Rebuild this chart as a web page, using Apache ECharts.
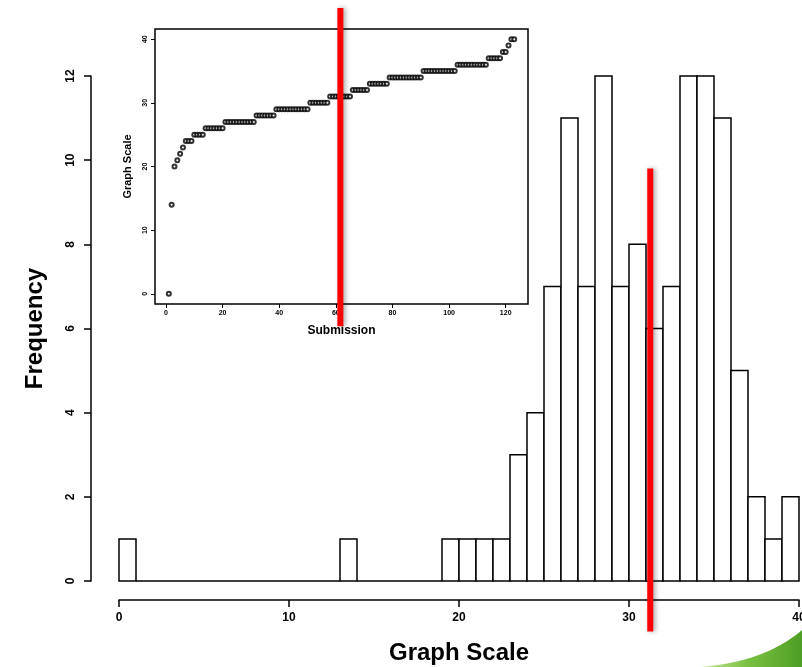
<!DOCTYPE html>
<html>
<head>
<meta charset="utf-8">
<script src="https://cdn.jsdelivr.net/npm/echarts@6/dist/echarts.min.js"></script>
<style>
  html, body { margin: 0; padding: 0; background: #fff; }
  #chart { width: 802px; height: 667px; }
</style>
</head>
<body>
<div id="chart"></div>
<script>
// Histogram of graph-scale scores: one bin per unit, bin k covers [k, k+1]
const binCounts = [
  1, 0, 0, 0, 0, 0, 0, 0, 0, 0,
  0, 0, 0, 1, 0, 0, 0, 0, 0, 1,
  1, 1, 1, 3, 4, 7, 11, 7, 12, 7,
  8, 6, 7, 12, 12, 11, 5, 2, 1, 2
];
const binStart = 0;
const binWidth = 1;

// Scores of every submission, in sorted order (inset plot)
const sortedScores = [
  0,
  14,
  20, 21, 22, 23,
  24, 24, 24,
  25, 25, 25, 25,
  26, 26, 26, 26, 26, 26, 26,
  27, 27, 27, 27, 27, 27, 27, 27, 27, 27, 27,
  28, 28, 28, 28, 28, 28, 28,
  29, 29, 29, 29, 29, 29, 29, 29, 29, 29, 29, 29,
  30, 30, 30, 30, 30, 30, 30,
  31, 31, 31, 31, 31, 31, 31, 31,
  32, 32, 32, 32, 32, 32,
  33, 33, 33, 33, 33, 33, 33,
  34, 34, 34, 34, 34, 34, 34, 34, 34, 34, 34, 34,
  35, 35, 35, 35, 35, 35, 35, 35, 35, 35, 35, 35,
  36, 36, 36, 36, 36, 36, 36, 36, 36, 36, 36,
  37, 37, 37, 37, 37,
  38, 38,
  39,
  40, 40
];

// Tick labels
const mainXTicks = [0, 10, 20, 30, 40];
const mainYTicks = [0, 2, 4, 6, 8, 10, 12];
const insetXTicks = [0, 20, 40, 60, 80, 100, 120];
const insetYTicks = [0, 10, 20, 30, 40];

// Red marker lines: [x position, y from, y to] in each plot's data units
const insetMarker = [61.6, 44.9, -5.1];
const mainMarker = [31.25, 9.8, -1.2];

const FONT = "'Liberation Sans', Arial, Helvetica, sans-serif";

const histData = binCounts.map((c, i) => [binStart + i * binWidth, binStart + (i + 1) * binWidth, c]);
const scatterData = sortedScores.map((v, i) => [i + 1, v]);

const chart = echarts.init(document.getElementById('chart'), null, { renderer: 'canvas' });

const black = '#000';
const tickLabel = (size) => ({ color: black, fontFamily: FONT, fontWeight: 'bold', fontSize: size });

chart.setOption({
  animation: false,
  backgroundColor: '#fff',
  grid: [
    { left: 119, top: 76, width: 680, height: 505, containLabel: false, outerBoundsMode: 'none' },
    { left: 155, top: 29, width: 373, height: 275, show: true, backgroundColor: '#fff',
      borderColor: black, borderWidth: 1.5, z: 5, containLabel: false, outerBoundsMode: 'none' }
  ],
  xAxis: [
    {
      gridIndex: 0, type: 'value', min: 0, max: 40, interval: 10, offset: 19,
      axisLine: { show: true, onZero: false, lineStyle: { color: black, width: 1.5 } },
      axisTick: { show: true, length: 7, lineStyle: { color: black, width: 1.5 } },
      axisLabel: Object.assign({ margin: 12, customValues: mainXTicks }, tickLabel(12)),
      splitLine: { show: false },
      name: 'Graph Scale', nameLocation: 'middle', nameGap: 41,
      nameTextStyle: { color: black, fontFamily: FONT, fontWeight: 'bold', fontSize: 24 }
    },
    {
      gridIndex: 1, type: 'value', min: -3.88, max: 127.88,
      axisLine: { show: false, onZero: false },
      axisTick: { show: true, length: 4, customValues: insetXTicks, lineStyle: { color: black, width: 1 } },
      axisLabel: Object.assign({ margin: 6, customValues: insetXTicks }, tickLabel(7)),
      splitLine: { show: false },
      name: 'Submission', nameLocation: 'middle', nameGap: 21,
      nameTextStyle: { color: black, fontFamily: FONT, fontWeight: 'bold', fontSize: 12 },
      z: 6
    }
  ],
  yAxis: [
    {
      gridIndex: 0, type: 'value', min: 0, max: 12, interval: 2, offset: 28,
      axisLine: { show: true, onZero: false, lineStyle: { color: black, width: 1.5 } },
      axisTick: { show: true, length: 7, lineStyle: { color: black, width: 1.5 } },
      axisLabel: Object.assign({ margin: 14, rotate: 90, customValues: mainYTicks }, tickLabel(12)),
      splitLine: { show: false },
      name: 'Frequency', nameLocation: 'middle', nameGap: 44, nameRotate: 90,
      nameTextStyle: { color: black, fontFamily: FONT, fontWeight: 'bold', fontSize: 24 }
    },
    {
      gridIndex: 1, type: 'value', min: -1.6, max: 41.6,
      axisLine: { show: false, onZero: false },
      axisTick: { show: true, length: 4, customValues: insetYTicks, lineStyle: { color: black, width: 1 } },
      axisLabel: Object.assign({ margin: 6, rotate: 90, customValues: insetYTicks }, tickLabel(7)),
      splitLine: { show: false },
      name: 'Graph Scale', nameLocation: 'middle', nameGap: 22, nameRotate: 90,
      nameTextStyle: { color: black, fontFamily: FONT, fontWeight: 'bold', fontSize: 11 },
      z: 6
    }
  ],
  series: [
    {
      type: 'custom', xAxisIndex: 0, yAxisIndex: 0,
      data: histData,
      encode: { x: [0, 1], y: 2 },
      renderItem: function (params, api) {
        const base = api.coord([api.value(0), 0]);
        const top = api.coord([api.value(1), api.value(2)]);
        return {
          type: 'rect',
          shape: { x: base[0], y: top[1], width: top[0] - base[0], height: base[1] - top[1] },
          style: { fill: '#fff', stroke: black, lineWidth: 1.5 }
        };
      }
    },
    {
      type: 'scatter', xAxisIndex: 1, yAxisIndex: 1, z: 7,
      data: scatterData,
      symbol: 'emptyCircle', symbolSize: 4,
      itemStyle: { color: black, borderColor: black, borderWidth: 0.9 }
    }
  ]
});

// Red marker lines drawn over both plots, placed through the axes' scales
function markerLine(idx, m) {
  const p1 = chart.convertToPixel({ xAxisIndex: idx, yAxisIndex: idx }, [m[0], m[1]]);
  const p2 = chart.convertToPixel({ xAxisIndex: idx, yAxisIndex: idx }, [m[0], m[2]]);
  return {
    type: 'line', z: 100,
    shape: { x1: p1[0], y1: p1[1], x2: p2[0], y2: p2[1] },
    style: { stroke: '#ff0000', lineWidth: 6, shadowBlur: 5, shadowColor: 'rgba(0,0,0,0.35)', shadowOffsetX: 2 }
  };
}

// Outline of the green swoosh in the lower right corner (curved top edge)
function swooshPoints() {
  const pts = [];
  const p0 = [700, 667], c = [765, 662], p1 = [802, 630];
  for (let i = 0; i <= 16; i++) {
    const t = i / 16, u = 1 - t;
    pts.push([u * u * p0[0] + 2 * u * t * c[0] + t * t * p1[0],
              u * u * p0[1] + 2 * u * t * c[1] + t * t * p1[1]]);
  }
  pts.push([802, 667]);
  return pts;
}

chart.setOption({
  graphic: [
    markerLine(1, insetMarker),
    markerLine(0, mainMarker),
    {
      type: 'polygon', z: 50, silent: true,
      shape: { points: swooshPoints() },
      style: {
        fill: {
          type: 'linear', x: 0, y: 0, x2: 1, y2: 0,
          colorStops: [
            { offset: 0, color: '#c6e79a' },
            { offset: 0.45, color: '#7cc242' },
            { offset: 1, color: '#4e9e24' }
          ]
        }
      }
    }
  ]
});
</script>
</body>
</html>
